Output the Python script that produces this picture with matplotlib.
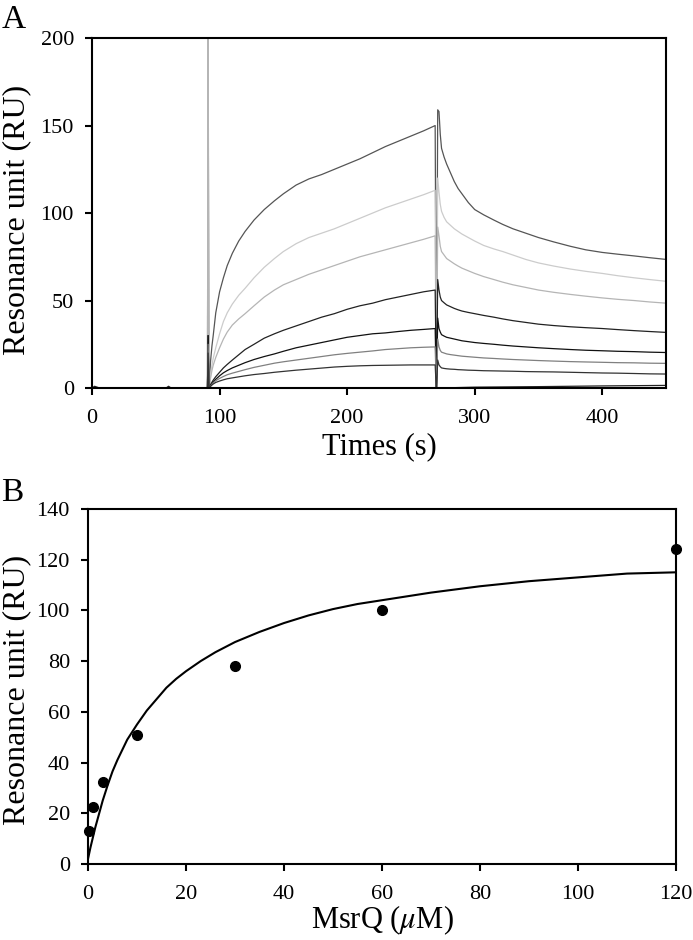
import matplotlib
matplotlib.use("Agg")
import matplotlib.pyplot as plt

plt.rcParams['font.family'] = ['Liberation Serif', 'DejaVu Serif']
plt.rcParams['mathtext.fontset'] = 'stix'

# ---- panel A: sensorgrams ----
t_assoc = [92, 92.5, 93, 94, 95, 97, 100, 103, 106, 110, 115, 120, 127, 135, 143,
           150, 160, 170, 180, 190, 200, 210, 220, 230, 240, 250, 260, 269]
t_dissoc = [272, 273, 274, 276, 278, 281, 284, 287, 290, 295, 300, 307, 315, 322,
            330, 340, 350, 362, 375, 387, 400, 412, 425, 437, 450]

assoc = [
    [0, 10, 16, 24, 30, 43, 55, 63, 70, 77, 84, 89.5, 96, 102, 107,
     111, 116, 119.5, 122, 125, 128, 131, 134.5, 138, 141, 144, 147, 150],
    [0, 5, 8, 13, 17, 23, 31, 38, 43, 48, 53, 57, 63, 69, 74,
     78, 82.5, 86, 88.5, 91, 94, 97, 100, 103, 105.5, 108, 110.5, 113],
    [0, 4, 6, 10, 13, 17.5, 23, 28, 32, 36, 39.5, 42.5, 47, 52, 56,
     59, 62, 65, 67.5, 70, 72.5, 75, 77, 79, 81, 83, 85, 87],
    [0, 1.2, 2, 3.3, 4.5, 6.5, 9, 11.5, 13.5, 16, 19, 22, 25, 28.5, 31,
     33, 35.5, 38, 40.5, 42.5, 45, 47, 48.5, 50.5, 52, 53.5, 55, 56],
    [0, 1, 1.5, 2.5, 3.5, 5, 7, 8.7, 10, 11.5, 13, 14.5, 16.3, 18, 19.5,
     21, 23, 24.5, 26, 27.5, 29, 30, 31, 31.5, 32.3, 33, 33.5, 34],
    [0, 0.7, 1.2, 2.1, 3, 4.2, 5.5, 6.6, 7.6, 8.5, 9.5, 10.5, 11.8, 13, 14.2,
     15, 16, 17, 18, 19, 19.8, 20.5, 21.2, 22, 22.5, 23, 23.3, 23.5],
    [0, 0.6, 1, 1.7, 2.3, 3.2, 4, 4.7, 5.3, 5.8, 6.4, 7, 7.7, 8.3, 9,
     9.5, 10.2, 10.8, 11.4, 12, 12.4, 12.7, 12.9, 13, 13.1, 13.2, 13.2, 13.2],
]
dissoc = [
    [158, 145, 137, 132, 128, 123, 118, 114, 111, 106, 102, 99, 96, 93.5,
     91, 88.5, 86, 83.5, 81, 79, 77.5, 76.5, 75.5, 74.5, 73.5],
    [112, 105, 101, 97.5, 95, 93, 91, 89.5, 88, 86, 84, 81.5, 79.5, 78,
     76, 73.5, 71.5, 69.7, 68, 66.7, 65.5, 64.2, 63, 62, 61],
    [87, 81, 78, 76, 74, 72.5, 71, 69.7, 68.5, 67, 65.5, 63.7, 62, 60.5,
     59, 57.5, 56, 54.7, 53.5, 52.5, 51.5, 50.7, 50, 49.2, 48.5],
    [56, 52, 50, 48.7, 47.5, 46.5, 45.5, 44.7, 44, 43.2, 42.5, 41.5, 40.5, 39.5,
     38.5, 37.5, 36.5, 35.7, 35, 34.5, 34, 33.4, 32.8, 32.3, 31.8],
    [34, 32, 30.5, 29.7, 29, 28.5, 28, 27.5, 27, 26.5, 26, 25.5, 25, 24.5,
     24, 23.5, 23, 22.5, 22, 21.6, 21.3, 21, 20.8, 20.5, 20.3],
    [23.5, 21.5, 20.5, 20, 19.5, 19.1, 18.8, 18.5, 18.2, 17.9, 17.6, 17.2, 16.9, 16.6,
     16.3, 16, 15.7, 15.4, 15.1, 14.9, 14.7, 14.5, 14.4, 14.2, 14.1],
    [13.2, 12.2, 11.5, 11.2, 11, 10.8, 10.7, 10.5, 10.4, 10.2, 10.1, 9.9, 9.8, 9.7,
     9.6, 9.4, 9.3, 9.2, 9, 8.8, 8.6, 8.5, 8.3, 8.1, 8],
]
inj_spike = [205, 230, 230, 30, 30, 25, 20]
end_spike = [159, 120, 92, 62, 40, 28, 16]
trace_colors = ['#555555', '#cccccc', '#b5b5b5', '#222222', '#111111', '#808080', '#333333']

base_t = [0, 2, 4, 6, 30, 58, 60, 62, 88, 91, 272, 300, 350, 400, 450]
base_v = [0, 1, 0.5, 0, 0, 0, 1, 0, 0, 0, 0, 0.5, 0.8, 1.2, 1.5]

# ---- panel B: binding vs concentration ----
msrq_conc = [0.3, 1, 3, 10, 30, 60, 120]
response = [13, 22.5, 32.5, 51, 78, 100, 124]
fit_x = [0, 0.5, 1, 1.5, 2, 3, 4, 5, 6, 7, 8, 9, 10, 12, 14, 16, 18, 20, 23, 26, 30,
         35, 40, 45, 50, 55, 60, 70, 80, 90, 100, 110, 120]
fit_y = [2, 6.5, 10.5, 14.5, 18, 25, 31, 36.5, 41, 45, 49, 52, 55, 60.5, 65, 69.5, 73,
         76, 80, 83.5, 87.5, 91.5, 95, 98, 100.5, 102.5, 104, 107, 109.5, 111.5, 113,
         114.5, 115]

fig = plt.figure(figsize=(6.93, 9.40), dpi=100)

def style(ax):
    for s in ax.spines.values():
        s.set_linewidth(1.5)
    ax.tick_params(direction='out', length=5, width=1.5, labelsize=16,
                   top=False, right=False)
    ax.tick_params(axis='x', pad=10)
    ax.tick_params(axis='y', pad=8)

axA = fig.add_axes([0.1328, 0.5872, 0.8283, 0.3723])
axA.plot(base_t, base_v, color='#222222', lw=0.9)
for a, d, s1, s2, c in zip(assoc, dissoc, inj_spike, end_spike, trace_colors):
    t = [90.5, 91, 91.6] + t_assoc + [270, 271] + t_dissoc
    v = [0, s1, 0] + a + [-2, s2] + d
    axA.plot(t, v, color=c, lw=0.9)
axA.set_xlim(0, 450)
axA.set_ylim(0, 200)
axA.set_xticks([0, 100, 200, 300, 400])
axA.set_yticks([0, 50, 100, 150, 200])
axA.set_xlabel('Times (s)', fontsize=22, labelpad=3)
axA.set_ylabel('Resonance unit (RU)', fontsize=23)
axA.yaxis.set_label_coords(-0.106, 0.48)
style(axA)

axB = fig.add_axes([0.1270, 0.0809, 0.8485, 0.3777])
axB.plot(fit_x, fit_y, color='black', lw=1.5)
axB.plot(msrq_conc, response, 'o', color='black', ms=7, clip_on=False, zorder=5)
axB.set_xlim(0, 120)
axB.set_ylim(0, 140)
axB.set_xticks(range(0, 121, 20))
axB.set_yticks(range(0, 141, 20))
axB.set_xlabel(r'MsrQ ($\mu$M)', fontsize=22, labelpad=0)
axB.set_ylabel('Resonance unit (RU)', fontsize=23)
axB.yaxis.set_label_coords(-0.097, 0.49)
style(axB)

fig.text(0.002, 0.970, 'A', fontsize=24, ha='left', va='baseline')
fig.text(0.002, 0.467, 'B', fontsize=24, ha='left', va='baseline')

fig.savefig('out.png', dpi=100)
